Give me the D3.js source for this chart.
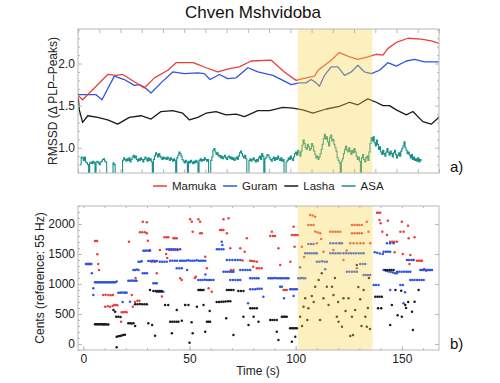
<!DOCTYPE html>
<html><head><meta charset="utf-8">
<script src="https://cdn.jsdelivr.net/npm/d3@7"></script>
<style>body{margin:0;background:#fff} text{font-family:"Liberation Sans",Arial,sans-serif}</style>
</head><body><svg id="c" width="500" height="383"></svg>
<script>
const title = "Chven Mshvidoba";
const seriesNames = ["Mamuka","Guram","Lasha","ASA"];
const seriesColors = ["#e8413c","#2f55e0","#1a1a1a","#19918a"];
const topYTicks = [1.0,1.5,2.0];
const bottomXTicks = [0,50,100,150];
const bottomYTicks = [0,500,1000,1500,2000];
const shadeTop = [103.5,138.6];
const shadeBottom = [101,136.2];

// top panel: [time, RMSSD]
const mamukaRMSSD = [[0,1.62],[2.2,1.57],[14.0,1.87],[17.9,1.86],[21.1,1.87],[31.2,1.71],[36.0,1.83],[42.3,1.92],[46.2,2.01],[54.1,2.01],[56.4,1.99],[60.3,1.95],[65.8,1.90],[71.3,1.94],[76.0,1.96],[81.5,2.03],[91.0,2.04],[97.2,1.90],[102.7,1.80],[107.4,1.83],[111.4,1.85],[113.0,1.92],[118.4,2.02],[123.1,2.13],[127.9,2.08],[131.8,2.05],[136.5,2.08],[140.4,2.11],[143.6,2.10],[146.0,2.18],[149.9,2.25],[155.4,2.30],[161.6,2.29],[166.4,2.27],[170.0,2.24]];
const guramRMSSD = [[0,1.63],[8.5,1.63],[11.3,1.57],[17.1,1.85],[21.8,1.81],[26.5,1.74],[28.9,1.75],[31.2,1.72],[34.4,1.65],[39.1,1.77],[44.6,1.90],[50.1,1.88],[56.4,1.89],[59.5,1.88],[62.2,1.81],[66.6,1.87],[70.5,1.82],[74.5,1.83],[80.0,1.95],[84.7,1.90],[91.8,1.86],[96.5,1.80],[100.4,1.75],[104.3,1.77],[107.4,1.77],[109.8,1.81],[112.2,1.77],[113.7,1.73],[116.1,1.86],[119.2,1.96],[122.4,1.96],[125.5,1.86],[128.7,1.90],[131.8,1.98],[134.9,1.90],[138.1,1.88],[142.0,1.92],[145.9,2.01],[149.9,1.97],[154.6,2.03],[158.5,2.05],[163.2,2.02],[170.0,2.02]];
const lashaRMSSD = [[0,1.65],[0.6,1.45],[2.2,1.30],[4.6,1.38],[9.3,1.36],[14.0,1.33],[18.7,1.28],[24.2,1.36],[29.7,1.38],[34.4,1.34],[39.1,1.43],[44.6,1.44],[49.3,1.41],[52.5,1.33],[56.4,1.36],[60.3,1.41],[65.0,1.43],[69.7,1.39],[74.5,1.40],[78.4,1.37],[84.7,1.44],[90.2,1.44],[96.5,1.48],[101.2,1.47],[105.9,1.45],[110.6,1.41],[116.9,1.46],[123.1,1.49],[127.9,1.54],[131.8,1.51],[136.5,1.58],[140.4,1.54],[143.6,1.50],[146.7,1.50],[149.9,1.45],[154.6,1.39],[157.7,1.43],[162.4,1.31],[166.3,1.28],[169.5,1.35],[170,1.37]];
const asaStart = 1, asaStep = 0.5;
const asaValues = [
0.80,0.89,0.88,0.85,0.89,0.83,0.82,0.80,0.68,0.82,0.83,0.81,0.84,0.82,0.68,0.83,0.84,0.82,0.80,0.83,
0.84,0.86,0.87,0.84,0.83,0.68,0.68,0.68,0.68,0.68,0.68,0.82,0.80,0.68,0.68,0.68,0.68,0.68,0.68,0.68,
0.85,0.88,0.86,0.84,0.87,0.85,0.88,0.83,0.86,0.89,0.91,0.88,0.90,0.86,0.84,0.87,0.85,0.88,0.86,0.83,
0.86,0.89,0.87,0.84,0.88,0.85,0.87,0.83,0.68,0.86,0.90,0.94,0.92,0.89,0.93,0.90,0.88,0.86,0.89,0.87,
0.88,0.86,0.89,0.87,0.85,0.88,0.86,0.84,0.87,0.85,0.68,0.88,0.91,0.95,0.93,0.90,0.86,0.84,0.82,0.85,
0.83,0.68,0.84,0.82,0.85,0.83,0.81,0.84,0.82,0.85,0.83,0.68,0.85,0.87,0.84,0.86,0.85,0.88,0.86,0.84,
0.86,0.68,0.68,0.85,0.89,0.97,0.99,0.95,0.92,0.94,0.90,0.91,0.88,0.90,0.87,0.89,0.91,0.88,0.86,0.89,
0.90,0.87,0.89,0.86,0.88,0.85,0.87,0.89,0.86,0.90,0.94,0.96,0.93,0.90,0.88,0.91,0.87,0.68,0.68,0.85,
0.87,0.84,0.86,0.88,0.85,0.83,0.86,0.84,0.88,0.90,0.86,0.93,0.90,0.68,0.87,0.89,0.92,0.91,0.88,0.86,
0.84,0.87,0.89,0.85,0.88,0.86,0.90,0.87,0.85,0.88,0.84,0.86,0.68,0.68,0.83,0.85,0.88,0.86,0.90,0.87,
0.85,0.89,0.93,0.95,0.91,0.97,0.94,0.90,0.96,1.03,1.09,1.05,1.00,0.98,1.04,1.01,0.97,0.99,1.05,1.02,
0.96,0.92,0.88,0.90,0.86,0.89,0.93,0.98,1.04,1.11,1.16,1.10,1.13,1.07,1.02,1.12,1.15,1.08,1.10,1.04,
1.00,0.96,0.88,0.85,0.82,0.68,0.84,0.87,0.93,0.98,1.02,0.97,0.95,1.00,0.96,0.92,0.97,0.94,0.99,0.95,
0.90,0.86,0.89,0.84,0.68,0.88,0.92,0.86,0.83,0.88,0.90,0.85,0.95,1.05,1.12,1.08,1.13,1.06,1.02,1.09,
1.04,0.98,1.01,0.95,0.92,0.97,0.93,0.90,0.95,0.99,0.94,0.91,0.96,0.93,0.89,0.94,0.97,0.92,0.88,0.91,
0.94,0.90,0.96,0.99,1.02,1.07,1.00,0.97,0.93,0.95,0.91,0.88,0.92,0.86,0.89,0.85,0.87,0.84,0.88,0.83,0.86,0.84];

// bottom panel: [time s, cents]
const mamukaPitch = [[1.3,1333],[1.9,1333],[2.5,1333],[3.0,1333],[3.5,1333],[5.5,1717],[6.0,1717],[6.5,1717],[6.6,1495],[7.0,1333],[7.4,1233],
[9.4,817],[10.5,822],[11.8,817],[12.9,811],[14.0,817],[10.3,622],[11.5,628],[12.6,622],[13.8,633],[14.6,650],[15.3,650],[16.0,645],
[17.8,372],[18.1,528],[18.8,528],[19.5,533],[20.4,528],[21.5,1706],[22.8,817],[23.3,622],[24.6,1100],
[26.7,1861],[27.8,1861],[29.0,1861],[28.0,2039],[29.9,2028],[29.9,1845],[24.4,700],[25.5,722],[26.4,722],
[30.4,1720],[31.4,1567],[32.2,1372],[33.0,1378],[33.8,1372],[34.6,1178],[36.1,1567],[37.0,790],
[38.2,1778],[39.0,1500],[39.5,1433],[39.3,1778],[40.0,1778],[42.4,1761],[43.2,1761],[44.0,1761],
[40.5,1567],[41.5,1567],[42.5,1567],[43.5,1567],[44.5,1567],[45.6,1095],[46.4,1067],[47.9,650],
[50.3,2078],[51.1,2039],[51.5,1872],[54.2,2078],[55.0,2039],[55.0,1845],[55.8,1845],[52.5,1100],[53.0,1120],
[57.4,1456],[58.2,1261],[59.0,928],[60.5,872],[64.4,1900],[65.2,1900],[66.0,1900],[66.0,2078],[68.4,2094],[67.6,1845],[69.2,1595],[69.5,1233],[70.7,1233],
[73.9,1595],[76.0,1539],[77.0,1761],[75.0,1390],[78.6,1389],[79.5,1385],[80.5,1380],[81.7,1372],[80.0,1289],[81.7,1261],[82.8,1261],[84.0,1261],
[88.0,1800],[88.8,1872],[89.3,1800],[90.3,1800],[91.9,1595],[92.7,1317],[94.3,900],[95.0,900],[95.8,900],
[98.2,1817],[99.0,1956],[99.3,1817],[100.1,1817],[101.0,1817],[99.5,1622],[97.5,1372],
[102.9,1622],[104,1450],[106.8,2150],[108.0,2140],[109.2,2122],[106.0,1984],[107.2,1984],[108.4,1984],
[109.2,1873],[110.4,1860],[111.6,1845],[110.0,1678],[113.1,1539],[112,1750],
[116.3,1872],[117.5,1872],[118.7,1872],[119.8,1872],[121.0,1872],[117.8,1567],[121.0,1678],[122.5,1400],
[126.5,1984],[127.7,1984],[128.9,1984],[130.0,1984],[131.2,1984],[126.5,1845],[127.7,1845],[128.9,1845],[130.0,1845],[131.2,1845],
[125.7,1678],[127.3,1678],[128.9,1678],[130.5,1678],[132.0,1678],[133.5,2039],[134.3,1872],[135.1,1678],[128.8,1261],[124,1560],
[138.3,2189],[139.0,2189],[139.8,2189],[139.5,2067],[140.0,2011],[140.8,1872],[143.0,1817],
[144.5,1706],[145.5,1706],[146.5,1706],[147.7,1706],[150.0,2039],[149.3,1872],[150.8,1872],
[153.2,1761],[154.0,1484],[155.5,1400],[157.1,1389],[158.0,1389],[158.8,1389],[159.5,1389],
[146.6,1528],[150.5,1500],[153.6,1333],[160.5,1250],[161.5,1222],[156,1778],[152.9,1972],[143.4,2055]];
const guramPitch = [[1.3,1333],[2.2,1333],[3.0,1333],[3.8,1333],[4.0,1178],[4.7,928],[4.7,817],
[5.5,1028],[6.0,1030],[6.5,1030],[7.0,1028],[7.5,1028],[8.0,1030],[8.5,1028],[9.0,1028],[9.5,1030],[10.0,1028],[10.5,1028],[11.0,1028],[11.5,1030],[12.0,1028],[12.5,1028],[13.0,1028],[13.5,1028],[14.0,1030],[14.5,1028],[15.0,1028],[15.7,1040],
[16.5,856],[17.3,856],[18.1,860],[19.0,856],[19.7,860],[20.4,856],[18.5,700],
[21.2,1056],[22.0,1056],[22.8,1060],[23.6,1056],[24.4,1056],[25.1,1056],[22.0,706],
[23.6,1233],[24.4,1233],[25.2,1240],[26.0,1233],[26.0,1372],[26.8,1372],[27.5,1378],
[28.3,1556],[29.0,1556],[29.8,1560],[30.6,1556],[31.4,1556],[30.6,1383],[31.6,1383],[32.6,1389],[33.6,1383],[34.6,1383],
[28.0,1178],[29.0,1178],[30.0,1178],[33.0,1011],[33.8,1011],[34.6,1011],
[34.6,872],[35.4,872],[36.2,872],[36.9,872],[37.7,872],[36.0,1372],[37.1,1372],[38.2,1372],[39.3,1372],
[39.3,1578],[40.3,1578],[41.3,1578],[42.3,1578],[43.3,1578],[44.3,1578],[45.6,1578],
[40.9,1389],[42.0,1389],[43.1,1389],[44.2,1389],[45.6,1389],[44.0,1261],[45.2,1261],[46.4,1261],
[46.4,1389],[47.4,1389],[48.4,1389],[49.4,1395],[50.4,1389],[51.4,1389],[52.4,1389],[53.4,1395],[54.4,1389],[55.4,1389],[56.4,1389],[57.4,1389],[48.9,1233],
[54.2,1067],[55.2,1067],[56.2,1067],[57.2,1072],[58.2,1067],[59.2,1067],[60.2,1067],[61.3,1067],[55.0,900],[57.5,1160],
[62.9,1578],[63.9,1578],[65.0,1578],[66.0,1578],[65.2,1706],[65.5,1650],
[66.0,1206],[67.0,1206],[68.0,1206],[69.0,1206],[70.0,1206],[70.7,1206],
[67.6,1400],[68.9,1400],[70.2,1400],[71.5,1400],[72.7,1400],[73.9,1400],
[69.2,1067],[70.4,1067],[71.6,1067],[72.8,1067],[73.9,1067],
[73.9,1233],[75.1,1233],[76.3,1233],[77.4,1233],[78.6,1233],[77.6,678],
[78.6,1095],[79.6,1095],[80.6,1095],[81.6,1095],[82.5,1095],
[78.6,911],[79.8,911],[81.0,911],[82.0,922],[83.0,922],[84.0,922],[84.8,789],
[87.2,1095],[88.0,1095],[88.8,1095],[89.6,1095],[90.4,1100],[91.2,1095],[92.0,1095],[92.8,1095],[93.6,1095],[94.4,1095],[95.2,1095],[96.0,1095],[96.6,1095],
[92.7,956],[93.5,956],[97.4,911],[98.2,911],[99.0,911],[99.8,911],[100.6,911],[94.5,761],[99.0,800],
[101.3,1095],[102.1,1095],[102.9,1100],[103.7,1095],[104.5,1095],[102.1,1278],
[104.5,1511],[105.5,1511],[106.5,1511],[107.5,1511],[108.5,1511],[109.5,1511],[110.0,1511],
[106.0,1667],[107.2,1667],[108.4,1667],[110.0,1372],[111.2,1372],[112.4,1378],[113.6,1372],[114.7,1372],[113.9,1244],
[116.3,1511],[117.5,1511],[118.7,1511],[119.9,1511],[121.0,1511],
[116.3,1678],[117.7,1678],[119.1,1678],[120.5,1678],[121.8,1678],
[122.5,1511],[123.7,1511],[124.9,1511],[126.1,1511],[127.3,1511],[128.5,1511],[129.7,1511],[130.9,1511],[132.0,1511],
[124.1,1206],[125.3,1206],[126.5,1206],[127.7,1206],[128.8,1206],[130.4,1333],[131.6,1333],[132.8,1333],
[132.0,1150],[133.0,1150],[134.0,1150],[135.1,1150],[136.7,983],[137.8,983],[139.0,983],
[137.2,1528],[138.4,1520],[139.6,1510],[141.0,1500],[141.4,1539],[142.5,1539],[143.5,1539],[144.5,1539],
[141.4,1233],[142.5,1220],[143.6,1210],[144.7,1200],[145.8,1190],[146.8,1180],[147.7,1178],
[143.0,1678],[144.5,1678],[146.1,1678],[144.5,900],
[147.7,1206],[148.8,1206],[149.9,1206],[151.0,1206],[152.1,1206],[153.0,1206],[154.0,1206],
[149.3,983],[150.5,983],[150.8,678],[151.5,861],[152.4,1400],[153.4,1400],[154.5,1400],[155.5,1400],
[154.0,1067],[155.0,1067],[156.0,1067],[157.1,1067],[158.2,1067],[159.3,1067],[160.3,1067],
[158.7,1233],[159.5,1233],[160.3,1233],[161.0,1233],[161.7,1235],[162.4,1233],[163.0,1233],[163.6,1233],[164.2,1233]];
const lashaPitch = [[5.5,328],[6.0,330],[6.5,328],[7.0,328],[7.5,330],[8.0,328],[8.5,328],[9.0,328],[9.5,325],[10.0,328],[10.5,328],[11.0,325],[11.8,325],
[14.2,567],[15.0,539],[15.5,456],[16.5,456],[17.5,450],
[15.7,120],[16.5,128],[17.3,133],[18.0,140],[18.8,150],[19.6,155],[15.7,-55],
[21.2,344],[22.0,344],[22.8,340],[23.6,344],[24.4,300],
[24.4,661],[25.5,661],[26.6,665],[27.7,661],[28.8,661],[29.9,661],
[30.6,344],[31.4,900],[32.4,317],[33.0,883],[34.0,883],[35.0,883],[36.0,883],[36.9,883],[33.8,139],
[38.5,650],[40.0,650],[40.9,372],[41.9,372],[42.9,372],[43.9,372],[44.8,372],[41.7,178],[44.0,567],
[46.4,389],[48.0,650],[49.5,650],[51.0,361],[50.0,22],[51.5,178],
[54.2,900],[55.0,900],[55.8,900],[56.6,900],[53.5,622],[56.6,650],
[57.4,206],[58.2,372],[59.0,372],[59.7,372],[59.5,550],
[62.8,700],[63.9,702],[65.0,705],[66.0,706],[67.0,710],[68.1,712],[69.2,714],
[67.6,900],[68.6,900],[69.6,900],[70.7,900],[67.3,428],[70.7,150],
[73.0,883],[74.2,883],[75.4,883],[75.4,456],[77.8,317],
[78.6,595],[79.6,595],[80.6,595],[81.7,595],[80.2,456],[82.5,372],
[88.0,400],[89.0,400],[90.0,400],[91.1,400],[91.1,206],[91.9,67],
[93.5,456],[94.3,456],[95.0,456],[95.8,456],
[97.4,261],[98.2,261],[99.0,261],[99.8,261],[100.6,261],[98.2,39],[99.8,122],
[102.1,456],[103.7,622],[104.5,761],[106.0,594],[107.6,800],[109.2,956],[110.8,1067],[112.3,1178],[113.1,761],[114.7,956],
[117.1,956],[117.8,817],[119.4,456],[120.2,372],[121.8,289],[122.5,761],[124.9,761],[125.7,133],[126.5,456],[128.0,567],[128.8,1317],[130.4,744],[132.8,456],[133.5,289],[132.0,900],
[103.0,300],[105.5,400],[108.5,700],[111.5,400],[115.5,650],[118.5,1100],[120.0,700],[123.5,550],[127.0,150],[129.5,950],[131.0,300],[134.0,600],[135.0,250],[134.5,1100],
[137.5,789],[138.5,789],[139.5,789],[140.6,789],[138.8,594],[140.3,594],
[142.2,1233],[143.2,1233],[144.2,1233],[145.1,1233],[146.1,1233],
[144.5,317],[145.3,650],[147.0,900],[148.0,480],[150.0,456],[151.6,650],[153.0,700],[154.8,539],[155.2,233],[156.0,706],[157.9,900],[149.7,889],[152.0,600]];

const svg = d3.select("#c");
const L = 78, R = 439;
const TT = 29, TB = 173, BT = 206, BB = 350;
const xTop = d3.scaleLinear().domain([0,170]).range([L,R]);
const yTop = d3.scaleLinear().domain([0.70,2.41]).range([TB,TT]);
const xBot = d3.scaleLinear().domain([-2.5,167.5]).range([L,R]);
const yBot = d3.scaleLinear().domain([-100,2300]).range([BB,BT]);
const frameCol = "#b8b8b8", labCol = "#222";

const defs = svg.append("defs");
defs.append("clipPath").attr("id","ct").append("rect").attr("x",L).attr("y",TT).attr("width",R-L).attr("height",TB-TT);
defs.append("clipPath").attr("id","cb").append("rect").attr("x",L).attr("y",BT).attr("width",R-L).attr("height",BB-BT);

svg.append("text").attr("x",253).attr("y",18).attr("text-anchor","middle").attr("font-size",17).attr("fill","#111").text(title);

// ---- top panel
const gT = svg.append("g").attr("clip-path","url(#ct)");
const lineT = d3.line().x(d=>xTop(d[0])).y(d=>yTop(d[1]));
const asaPts = asaValues.map((v,i)=>[asaStart+i*asaStep, v]);
gT.append("path").datum(asaPts).attr("d", d3.line().x(d=>xTop(d[0])).y(d=>yTop(d[1])).curve(d3.curveStepAfter))
  .attr("fill","none").attr("stroke",seriesColors[3]).attr("stroke-width",1.1);
[[lashaRMSSD,2],[guramRMSSD,1],[mamukaRMSSD,0]].forEach(([d,i])=>{
  gT.append("path").datum(d).attr("d",lineT).attr("fill","none").attr("stroke",seriesColors[i]).attr("stroke-width",1.3).attr("stroke-linejoin","round");
});
svg.append("rect").attr("x",xTop(shadeTop[0])).attr("y",TT).attr("width",xTop(shadeTop[1])-xTop(shadeTop[0])).attr("height",TB-TT)
  .attr("fill","#f7d74c").attr("opacity",0.36);
svg.append("rect").attr("x",L).attr("y",TT).attr("width",R-L).attr("height",TB-TT).attr("fill","none").attr("stroke",frameCol).attr("stroke-width",1);

function styleAxis(g){ g.select(".domain").remove(); g.selectAll(".tick line").attr("stroke",frameCol); g.selectAll("text").attr("fill",labCol).attr("font-size",12).attr("font-family","Liberation Sans, Arial, sans-serif"); }
const topXT = d3.range(0,171,10);
svg.append("g").attr("transform",`translate(0,${TT})`).call(d3.axisTop(xTop).tickValues(topXT).tickSize(-4).tickFormat("")).call(styleAxis);
svg.append("g").attr("transform",`translate(0,${TB})`).call(d3.axisBottom(xTop).tickValues(topXT).tickSize(-4).tickFormat("")).call(styleAxis);
svg.append("g").attr("transform",`translate(${L},0)`).call(d3.axisLeft(yTop).tickValues(topYTicks).tickSize(-4).tickPadding(3).tickFormat(d3.format(".1f"))).call(styleAxis);
const topMinor = d3.range(0.8,2.41,0.1).filter(v=>Math.abs(v*2-Math.round(v*2))>0.01);
svg.append("g").attr("transform",`translate(${L},0)`).call(d3.axisLeft(yTop).tickValues(topMinor).tickSize(-2).tickFormat("")).call(styleAxis);
svg.append("g").attr("transform",`translate(${R},0)`).call(d3.axisRight(yTop).tickValues(topYTicks).tickSize(-4).tickFormat("")).call(styleAxis);
svg.append("g").attr("transform",`translate(${R},0)`).call(d3.axisRight(yTop).tickValues(topMinor).tickSize(-2).tickFormat("")).call(styleAxis);
svg.append("text").attr("transform","translate(57,101) rotate(-90)").attr("text-anchor","middle").attr("font-size",12).attr("fill",labCol).text("RMSSD (Δ PLP–Peaks)");
svg.append("text").attr("x",450).attr("y",172).attr("font-size",15).attr("fill","#111").text("a)");

// ---- legend
let lx = 153; const ly = 186;
seriesNames.forEach((n,i)=>{
  svg.append("line").attr("x1",lx).attr("x2",lx+14).attr("y1",ly).attr("y2",ly).attr("stroke",seriesColors[i]).attr("stroke-width",1.5);
  const t = svg.append("text").attr("x",lx+19).attr("y",ly+4).attr("font-size",11.5).attr("fill",labCol).text(n);
  lx += 19 + t.node().getComputedTextLength() + 7;
});

// ---- bottom panel
const gB = svg.append("g").attr("clip-path","url(#cb)");
const pitch = [[mamukaPitch,0],[guramPitch,1],[lashaPitch,2]];
pitch.forEach(([d,i])=>{
  gB.append("g").selectAll("circle").data(d).join("circle").attr("cx",p=>xBot(p[0])).attr("cy",p=>yBot(p[1])).attr("r",1.25).attr("fill",seriesColors[i]);
});
svg.append("rect").attr("x",xBot(shadeBottom[0])).attr("y",BT).attr("width",xBot(shadeBottom[1])-xBot(shadeBottom[0])).attr("height",BB-BT)
  .attr("fill","#f7d74c").attr("opacity",0.36);
svg.append("rect").attr("x",L).attr("y",BT).attr("width",R-L).attr("height",BB-BT).attr("fill","none").attr("stroke",frameCol).attr("stroke-width",1);
const botMinorX = d3.range(0,168,10);
svg.append("g").attr("transform",`translate(0,${BB})`).call(d3.axisBottom(xBot).tickValues(bottomXTicks).tickSize(-4).tickPadding(4).tickFormat(d3.format("d"))).call(styleAxis);
svg.append("g").attr("transform",`translate(0,${BB})`).call(d3.axisBottom(xBot).tickValues(botMinorX).tickSize(-2).tickFormat("")).call(styleAxis);
svg.append("g").attr("transform",`translate(0,${BT})`).call(d3.axisTop(xBot).tickValues(botMinorX).tickSize(-2).tickFormat("")).call(styleAxis);
svg.append("g").attr("transform",`translate(${L},0)`).call(d3.axisLeft(yBot).tickValues(bottomYTicks).tickSize(-4).tickPadding(3).tickFormat(d3.format("d"))).call(styleAxis);
const botMinorY = d3.range(-100,2301,100).filter(v=>v%500!==0);
svg.append("g").attr("transform",`translate(${L},0)`).call(d3.axisLeft(yBot).tickValues(botMinorY).tickSize(-2).tickFormat("")).call(styleAxis);
svg.append("g").attr("transform",`translate(${R},0)`).call(d3.axisRight(yBot).tickValues(bottomYTicks).tickSize(-4).tickFormat("")).call(styleAxis);
svg.append("text").attr("x",258).attr("y",375).attr("text-anchor","middle").attr("font-size",12).attr("fill",labCol).text("Time (s)");
svg.append("text").attr("transform","translate(44,278) rotate(-90)").attr("text-anchor","middle").attr("font-size",12).attr("fill",labCol).text("Cents (reference: 55 Hz)");
svg.append("text").attr("x",450).attr("y",349).attr("font-size",15).attr("fill","#111").text("b)");
</script></body></html>
